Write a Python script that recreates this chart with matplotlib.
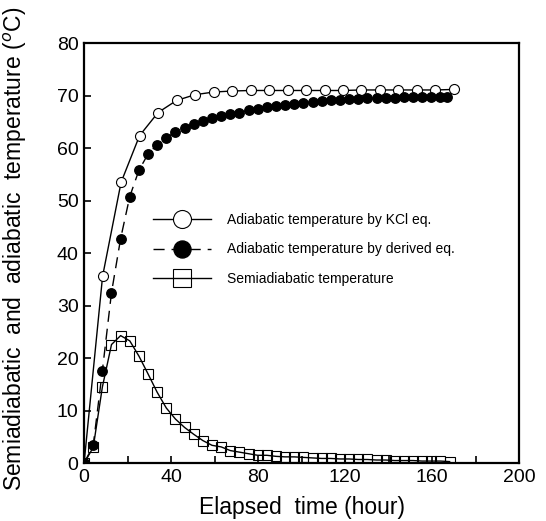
import numpy as np
import matplotlib
matplotlib.use("Agg")
import matplotlib.pyplot as plt

plt.rcParams['font.family'] = ['Liberation Sans', 'DejaVu Sans']

# Adiabatic temperature by KCl equation (open circles)
t_kcl = [0, 8.5, 17, 25.5, 34, 42.5, 51, 59.5, 68, 76.5, 85, 93.5, 102,
         110.5, 119, 127.5, 136, 144.5, 153, 161.5, 170]
temp_kcl = [0, 35.6, 53.5, 62.4, 66.8, 69.1, 70.2, 70.7, 70.9, 71.0, 71.0,
            71.0, 71.0, 71.0, 71.0, 71.1, 71.1, 71.1, 71.1, 71.1, 71.2]

# Adiabatic temperature by derived equation (filled circles)
t_derived = [0, 4.2, 8.4, 12.6, 16.8, 21.0, 25.2, 29.4, 33.6, 37.8, 42.0,
             46.2, 50.4, 54.6, 58.8, 63.0, 67.2, 71.4, 75.6, 79.8, 84.0,
             88.2, 92.4, 96.6, 100.8, 105.0, 109.2, 113.4, 117.6, 121.8,
             126.0, 130.2, 134.4, 138.6, 142.8, 147.0, 151.2, 155.4, 159.6,
             163.8, 167.0]
temp_derived = [0, 3.4, 17.6, 32.5, 42.8, 50.8, 55.8, 58.9, 60.7, 62.0, 63.1,
                63.9, 64.7, 65.2, 65.7, 66.1, 66.5, 66.8, 67.2, 67.5, 67.8,
                68.0, 68.2, 68.5, 68.7, 68.8, 69.0, 69.1, 69.2, 69.3, 69.4,
                69.5, 69.5, 69.6, 69.6, 69.7, 69.7, 69.7, 69.8, 69.8, 69.8]

# Semiadiabatic temperature (open squares)
t_semi = [0, 4.2, 8.4, 12.6, 16.8, 21.0, 25.2, 29.4, 33.6, 37.8, 42.0, 46.2,
          50.4, 54.6, 58.8, 63.0, 67.2, 71.4, 75.6, 79.8, 84.0, 88.2, 92.4,
          96.6, 100.8, 105.0, 109.2, 113.4, 117.6, 121.8, 126.0, 130.2,
          134.4, 138.6, 142.8, 147.0, 151.2, 155.4, 159.6, 163.8, 168.0]
temp_semi = [0, 3.0, 14.5, 22.6, 24.3, 23.3, 20.4, 17.0, 13.5, 10.5, 8.4,
             6.8, 5.5, 4.3, 3.4, 3.1, 2.4, 2.1, 1.8, 1.5, 1.5, 1.3, 1.2, 1.2,
             1.1, 1.0, 0.9, 0.9, 0.8, 0.8, 0.7, 0.7, 0.6, 0.6, 0.5, 0.5,
             0.5, 0.4, 0.4, 0.4, 0.3]

labels = ["Adiabatic temperature by KCl eq.",
          "Adiabatic temperature by derived eq.",
          "Semiadiabatic temperature"]

fig = plt.figure(figsize=(5.46, 5.21), dpi=100)
ax = fig.add_axes([0.154, 0.111, 0.797, 0.806])

ax.plot(t_kcl, temp_kcl, color='black', lw=1.0, marker='o', ms=7.2,
        mfc='white', mec='black', mew=0.8, label=labels[0], zorder=3)
ax.plot(t_derived, temp_derived, color='black', lw=1.0, ls=(0, (8, 5)),
        marker='o', ms=6.8, mfc='black', mec='black', label=labels[1], zorder=4)
ax.plot(t_semi, temp_semi, color='black', lw=1.0, marker='s', ms=7,
        mfc='none', mec='black', mew=0.8, label=labels[2], zorder=2)

ax.set_xlim(0, 200)
ax.set_ylim(0, 80)
ax.set_xticks(np.arange(0, 201, 40))
ax.set_xticks(np.arange(20, 200, 40), minor=True)
ax.set_yticks(np.arange(0, 81, 10))
ax.tick_params(direction='in', length=5, width=1.2, labelsize=14, pad=4)
ax.tick_params(which='minor', direction='in', length=5, width=1.2)
for s in ax.spines.values():
    s.set_linewidth(1.6)

ax.set_xlabel("Elapsed  time (hour)", fontsize=16.5)
ax.set_ylabel("Semiadiabatic  and  adiabatic  temperature ($^{o}$C)",
              fontsize=16.5)
ax.xaxis.set_label_coords(0.5, -0.078)
ax.yaxis.set_label_coords(-0.126, 0.51)

leg = ax.legend(loc='upper left', bbox_to_anchor=(0.13, 0.625), frameon=False,
                fontsize=10, handlelength=4.2, handletextpad=1.1,
                labelspacing=1.1, markerscale=1.8)

fig.savefig("out.png", dpi=100)
